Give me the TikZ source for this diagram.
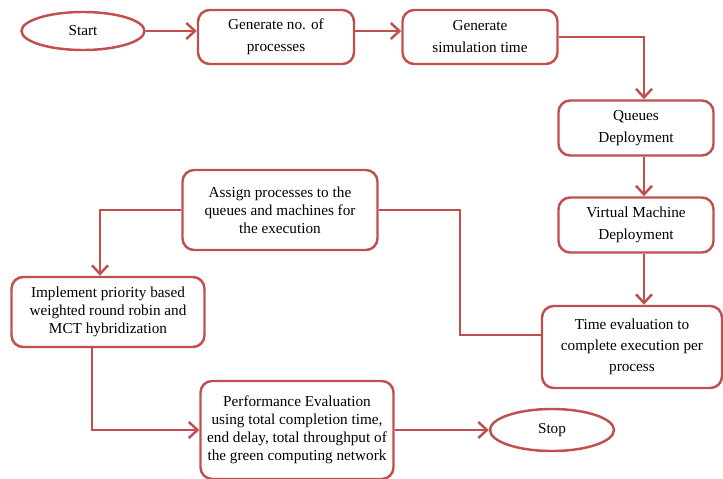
\documentclass[tikz,border=0pt]{standalone}
\usepackage{fontspec}
\setmainfont{Liberation Serif}
\usetikzlibrary{shapes.geometric,arrows.meta,positioning}
\definecolor{flowred}{HTML}{C0504D}

\begin{document}
\begin{tikzpicture}[x=0.03cm, y=-0.03cm,
    every node/.style={align=center, font=\fontsize{13}{15.3}\selectfont},
    loose/.style={font=\fontsize{13}{18.8}\selectfont},
    stepbox/.style={draw=flowred, line width=2.1pt, rounded corners=0.35cm, fill=white},
    terminal/.style={ellipse, draw=flowred, line width=2.1pt, fill=white},
    flow/.style={draw=flowred, line width=2.1pt,
        -{Straight Barb[length=2.6mm, width=4.8mm, line width=2.1pt]}},
    joint/.style={draw=flowred, line width=2.1pt}]

    \useasboundingbox (0,0) rectangle (723,479);

    % Top row
    \node[terminal, minimum width=3.69cm, minimum height=1.14cm] (start) at (83,31) {Start};
    \node[stepbox, loose, minimum width=4.68cm, minimum height=1.62cm] (genproc) at (276,37)
        {Generate no. of\\processes};
    \node[stepbox, loose, minimum width=4.65cm, minimum height=1.62cm] (gensim) at (480,37)
        {Generate\\simulation time};

    % Right column
    \node[stepbox, loose, minimum width=4.65cm, minimum height=1.65cm] (queues) at (636,128)
        {Queues\\Deployment};
    \node[stepbox, loose, minimum width=4.65cm, minimum height=1.65cm] (vm) at (636,225)
        {Virtual Machine\\Deployment};
    \node[stepbox, font=\fontsize{13}{18}\selectfont, minimum width=5.4cm, minimum height=2.46cm] (timeeval) at (632,347)
        {Time evaluation to\\complete execution per\\process};

    % Left part
    \node[stepbox, minimum width=5.85cm, minimum height=2.4cm] (assign) at (280,210)
        {Assign processes to the\\queues and machines for\\the execution};
    \node[stepbox, minimum width=5.79cm, minimum height=2.1cm] (implement) at (108,312)
        {Implement priority based\\weighted round robin and\\MCT hybridization};
    \node[stepbox, minimum width=5.79cm, minimum height=2.94cm] (perf) at (297,430)
        {Performance Evaluation\\using total completion time,\\end delay, total throughput of\\the green computing network};
    \node[terminal, minimum width=3.72cm, minimum height=1.26cm] (stop) at (552,430) {Stop};

    % Helper coordinates for the rails
    \coordinate (toprow) at (0,31);
    \coordinate (rail) at (644,0);
    \coordinate (backbend) at (460,335);

    % Connectors
    \draw[flow] (start.east) -- (start.east -| genproc.west);
    \draw[flow] (genproc.east |- toprow) -- (gensim.west |- toprow);
    \draw[flow] (gensim.east) -| (rail |- queues.north);
    \draw[flow] (rail |- queues.south) -- (rail |- vm.north);
    \draw[flow] (rail |- vm.south) -- (rail |- timeeval.north);
    \draw[joint] (backbend -| timeeval.west) -- (backbend) |- (assign.east);
    \draw[flow] (assign.west) -| ([xshift=-0.24cm]implement.north);
    \draw[flow] ([xshift=-0.48cm]implement.south) |- (perf.west);
    \draw[flow] (perf.east) -- (stop.west);

\end{tikzpicture}
\end{document}
